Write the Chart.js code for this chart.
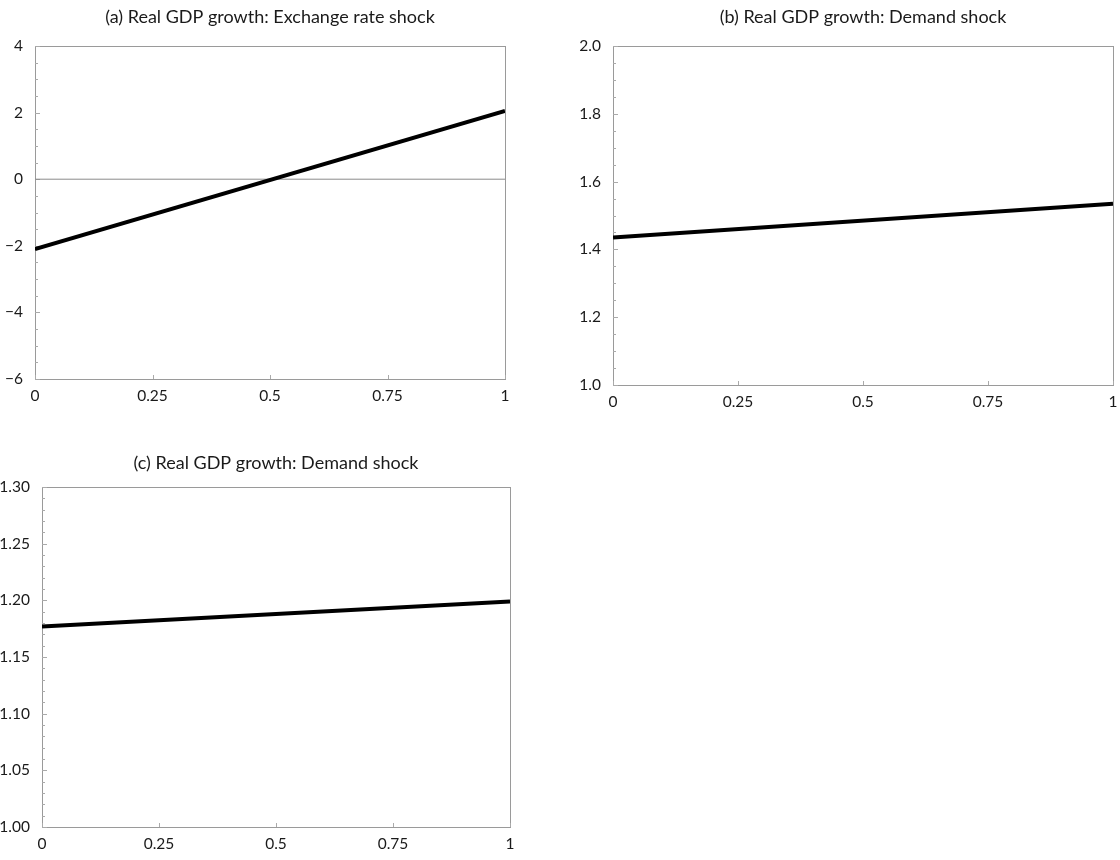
<!DOCTYPE html>
<html>
<head>
<meta charset="utf-8">
<script src="https://cdn.jsdelivr.net/npm/chart.js@4/dist/chart.umd.min.js"></script>
<style>
  html, body { margin: 0; padding: 0; background: #fff; }
  body { width: 1120px; height: 860px; position: relative; overflow: hidden; }
  .panel { position: absolute; }
</style>
</head>
<body>
<div class="panel" id="pa" style="left:0px;top:0px;width:525px;height:410px;"><canvas id="ca"></canvas></div>
<div class="panel" id="pb" style="left:560px;top:0px;width:560px;height:416px;"><canvas id="cb"></canvas></div>
<div class="panel" id="pc" style="left:0px;top:440px;width:530px;height:420px;"><canvas id="cc"></canvas></div>
<script>
// ---- Data ----
const xValues = [0, 1];
const xTicks = [0, 0.25, 0.5, 0.75, 1];
const xTickLabels = ['0', '0.25', '0.5', '0.75', '1'];

const titleA = '(a) Real GDP growth: Exchange rate shock';
const seriesA = [-2.1, 2.05];
const zeroLineA = [0, 0];
const yTicksA = [-6, -4, -2, 0, 2, 4];
const yTickLabelsA = ['\u22126', '\u22124', '\u22122', '0', '2', '4'];

const titleB = '(b) Real GDP growth: Demand shock';
const seriesB = [1.435, 1.535];
const yTicksB = [1.0, 1.2, 1.4, 1.6, 1.8, 2.0];
const yTickLabelsB = ['1.0', '1.2', '1.4', '1.6', '1.8', '2.0'];

const titleC = '(c) Real GDP growth: Demand shock';
const seriesC = [1.177, 1.199];
const yTicksC = [1.00, 1.05, 1.10, 1.15, 1.20, 1.25, 1.30];
const yTickLabelsC = ['1.00', '1.05', '1.10', '1.15', '1.20', '1.25', '1.30'];

// ---- Helpers ----
const FONT = "Lato, 'Open Sans', sans-serif";
const toPoints = (xs, ys) => xs.map((x, i) => ({ x: x, y: ys[i] }));

const framePlugin = {
  id: 'frame',
  beforeDatasetsDraw(chart, args, opts) {
    const { ctx, chartArea: a, scales } = chart;
    ctx.save();
    ctx.strokeStyle = '#9a9a9a';
    ctx.lineWidth = 1;
    ctx.strokeRect(Math.round(a.left) + 0.5, Math.round(a.top) + 0.5,
                   Math.round(a.right - a.left), Math.round(a.bottom - a.top));
    const ys = scales.y;
    const step = opts.minorStep;
    const n = Math.round((ys.max - ys.min) / step);
    ctx.strokeStyle = '#aaaaaa';
    for (let i = 0; i <= n; i++) {
      const v = ys.min + i * step;
      const py = Math.round(ys.getPixelForValue(v)) + 0.5;
      const isMajor = opts.majors.some(m => Math.abs(m - v) < step / 10);
      const len = isMajor ? 5 : 3;
      ctx.beginPath();
      ctx.moveTo(a.left, py);
      ctx.lineTo(a.left + len, py);
      ctx.stroke();
    }
    const xs = scales.x;
    opts.xMajors.forEach(v => {
      const px = Math.round(xs.getPixelForValue(v)) + 0.5;
      ctx.beginPath();
      ctx.moveTo(px, a.bottom);
      ctx.lineTo(px, a.bottom - 4);
      ctx.stroke();
    });
    ctx.restore();
  }
};

function makeChart(canvasId, title, datasets, yMin, yMax, yTicks, yLabels, minorStep, yAxisWidth, xAxisHeight, padRight, titlePad) {
  return new Chart(document.getElementById(canvasId), {
    type: 'line',
    data: { datasets: datasets },
    options: {
      responsive: true,
      maintainAspectRatio: false,
      animation: false,
      events: [],
      layout: { padding: { left: 0, right: padRight, top: 0, bottom: 0 } },
      plugins: {
        legend: { display: false },
        tooltip: { enabled: false },
        title: {
          display: true,
          fullSize: false,
          text: title,
          color: '#1a1a1a',
          font: { family: FONT, size: 18, weight: 'normal', lineHeight: 1.2 },
          padding: titlePad
        },
        frame: { minorStep: minorStep, majors: yTicks, xMajors: xTicks }
      },
      scales: {
        x: {
          type: 'linear',
          min: 0, max: 1,
          afterBuildTicks: s => { s.ticks = xTicks.map(v => ({ value: v })); },
          afterFit: s => { s.height = xAxisHeight; },
          ticks: {
            autoSkip: false,
            maxRotation: 0,
            padding: 0,
            color: '#1a1a1a',
            font: { family: FONT, size: 15.5 },
            callback: (v, i) => xTickLabels[i]
          },
          grid: { display: false },
          border: { display: false }
        },
        y: {
          type: 'linear',
          min: yMin, max: yMax,
          afterBuildTicks: s => { s.ticks = yTicks.map(v => ({ value: v })); },
          afterFit: s => { s.width = yAxisWidth; },
          ticks: {
            autoSkip: false,
            padding: 4,
            color: '#1a1a1a',
            font: { family: FONT, size: 15.5 },
            callback: (v, i) => yLabels[i]
          },
          grid: { display: false },
          border: { display: false }
        }
      }
    },
    plugins: [framePlugin]
  });
}

const mainLine = (ys) => ({
  data: toPoints(xValues, ys),
  borderColor: '#000',
  borderWidth: 4,
  pointRadius: 0,
  fill: false,
  tension: 0,
  borderCapStyle: 'butt'
});

makeChart('ca', titleA, [
  mainLine(seriesA),
  { data: toPoints(xValues, zeroLineA), borderColor: '#8a8a8a', borderWidth: 1, pointRadius: 0, fill: false }
], -6, 4, yTicksA, yTickLabelsA, 0.5, 35, 31, 20, { top: 6, bottom: 18.4 });

makeChart('cb', titleB, [mainLine(seriesB)], 1.0, 2.0, yTicksB, yTickLabelsB, 0.05, 53, 31, 7, { top: 6, bottom: 18.4 });

makeChart('cc', titleC, [mainLine(seriesC)], 1.00, 1.30, yTicksC, yTickLabelsC, 0.01, 42, 33, 20, { top: 12, bottom: 13.4 });
</script>
</body>
</html>
